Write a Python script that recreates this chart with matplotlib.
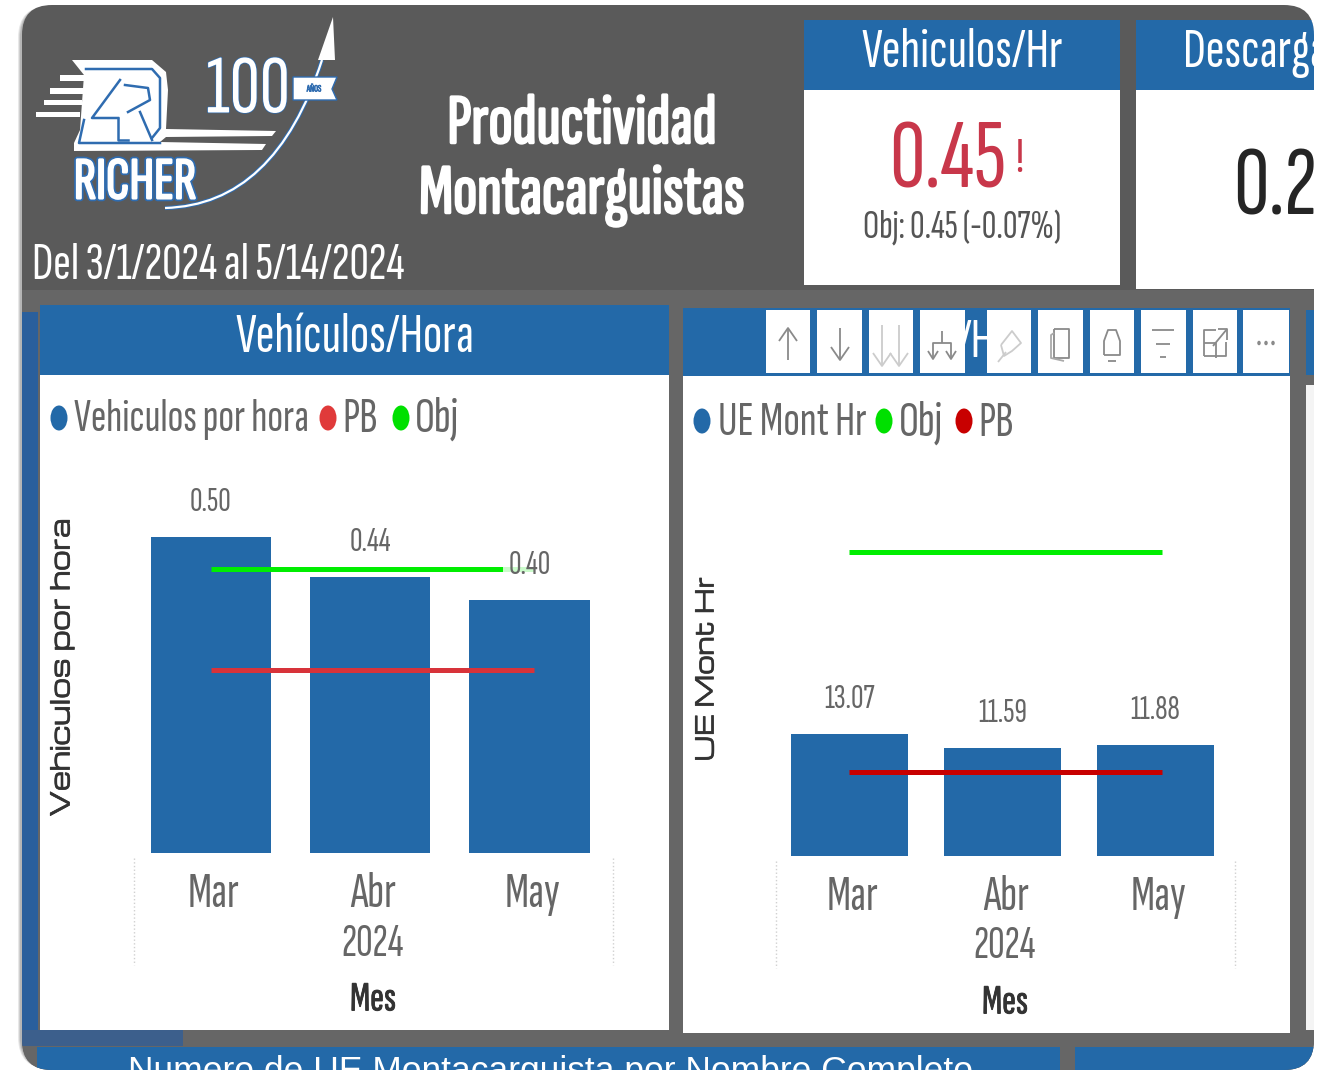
import matplotlib as mpl
import matplotlib.pyplot as plt
import matplotlib.patheffects as pe
from matplotlib.patches import FancyBboxPatch, Rectangle, Polygon, PathPatch, Ellipse
from matplotlib.path import Path

W, H = 1321, 1071
BLUE = '#2369a8'
DARK = '#5a5a5a'
LOGO = '#2f6cb0'
NARROW = ['Sofia Sans Extra Condensed', 'Liberation Sans', 'DejaVu Sans']
WIDE = ['Michroma', 'DejaVu Sans']

# datos
meses = ['Mar', 'Abr', 'May']
vehiculos_hora = [0.504, 0.44, 0.404]
obj_vehiculos = 0.453
pb_vehiculos = 0.292
ue_mont_hr = [13.07, 11.59, 11.88]
obj_ue = 32.6
pb_ue = 9.0

mpl.rcParams['font.family'] = NARROW
fig = plt.figure(figsize=(W / 100, H / 100), dpi=100, facecolor='white')

# capa de fondo en pixeles
bg = fig.add_axes([0, 0, 1, 1])
bg.set_xlim(0, W)
bg.set_ylim(H, 0)
bg.axis('off')

# sombra y tarjeta principal
for i, c in enumerate(['#e8e8e8', '#cfcfcf', '#b5b5b5']):
    bg.add_patch(FancyBboxPatch((18 + i, 6), 1290, 1063, boxstyle='round,pad=0,rounding_size=32',
                                fc=c, ec='none'))
base = FancyBboxPatch((22, 5), 1292, 1065, boxstyle='round,pad=0,rounding_size=30', fc=DARK, ec='none')
bg.add_patch(base)


def caja(x0, y0, x1, y1, color, z=2):
    r = Rectangle((x0, y0), x1 - x0, y1 - y0, fc=color, ec='none', zorder=z)
    bg.add_patch(r)
    r.set_clip_path(base)
    return r


def texto(x, y, s, size, color='#666666', ha='center', z=6, **kw):
    # +3: esta fuente queda un poco alta con va center
    t = bg.text(x, y + 3, s, fontsize=size, color=color, ha=ha, va='center', zorder=z, **kw)
    t.set_clip_path(base)
    return t


def negrita(ancho, color):
    return [pe.withStroke(linewidth=ancho, foreground=color)]


# franjas y paneles
caja(22, 290, 1314, 1070, '#666666', 1)
caja(22, 312, 38, 1030, '#2a5f9c')
caja(22, 1030, 183, 1046, '#3c5f8c')
caja(37, 1047, 1060, 1071, BLUE)
caja(1075, 1047, 1314, 1071, BLUE)
caja(1306, 310, 1314, 375, BLUE)
caja(1306, 385, 1314, 1030, '#f4f4f4')
caja(40, 305, 669, 375, BLUE)
caja(40, 375, 669, 1030, 'white')
caja(683, 308, 1290, 376, BLUE)
caja(683, 376, 1290, 1033, 'white')
caja(804, 20, 1120, 285, 'white')
caja(804, 20, 1120, 90, BLUE)
caja(1136, 20, 1314, 289, 'white')
caja(1136, 20, 1314, 90, BLUE)

# logo
for x0, y0, x1, y1 in [(60, 75, 86, 81), (50, 88, 84, 94), (44, 100, 82, 105), (36, 112, 80, 117)]:
    caja(x0, y0, x1, y1, 'white', 3)
bg.add_patch(Polygon([(72, 60), (152, 60), (166, 72), (168, 90), (166, 129), (276, 131), (272, 136), (166, 137),
                      (160, 142), (266, 144), (262, 150), (74, 151), (74, 143), (80, 130), (84, 75)],
                     fc='white', ec='none', zorder=3))
for xs, ys in [([86, 152, 160, 160, 152], [69, 69, 78, 128, 138]), ([84, 79, 160], [120, 143, 143]),
               ([120, 92, 118], [80, 118, 118]), ([125, 148, 150, 128], [85, 88, 100, 112]),
               ([118, 118, 128], [118, 140, 140]), ([140, 152], [112, 140])]:
    bg.plot(xs, ys, color=LOGO, lw=1.8, zorder=4)
curva = PathPatch(Path([(165, 208), (275, 205), (322, 60)], [Path.MOVETO, Path.CURVE3, Path.CURVE3]),
                  fc='none', ec='white', lw=1.6, zorder=3,
                  path_effects=[pe.Stroke(linewidth=3, foreground=LOGO), pe.Normal()])
bg.add_patch(curva)
bg.add_patch(Polygon([(333, 17), (335, 60), (318, 60)], fc='white', ec='none', zorder=3))
bg.add_patch(Polygon([(293, 77), (337, 77), (332, 89), (337, 100), (293, 100)], fc='white', ec=LOGO, lw=1, zorder=3))
texto(248, 89, '100', 60, 'white', path_effects=negrita(1, LOGO))
texto(314, 86, 'AÑOS', 7, LOGO, path_effects=negrita(0.5, LOGO))
texto(135, 180, 'RICHER', 43, 'white', path_effects=[pe.withStroke(linewidth=4, foreground=LOGO),
                                                     pe.withStroke(linewidth=1.5, foreground='white')])

# encabezado
texto(32, 263, 'Del 3/1/2024 al 5/14/2024', 38.5, 'white', ha='left')
texto(582, 122, 'Productividad', 51, 'white', path_effects=negrita(1.8, 'white'))
texto(582, 192, 'Montacarguistas', 51, 'white', path_effects=negrita(1.8, 'white'))

# indicadores
texto(962, 50, 'Vehiculos/Hr', 41, 'white')
texto(948, 160, '0.45', 71, '#c8374a')
texto(1019, 156, '!', 36, '#c8374a')
texto(962, 225, 'Obj: 0.45 (-0.07%)', 29, '#555555')
texto(1183, 50, 'Descarga', 41, 'white', ha='left')
texto(1233, 187, '0.2', 71, '#252525', ha='left')

# titulos de los paneles
texto(355, 335, 'Vehículos/Hora', 41, 'white')
texto(976, 340, '/H', 41, 'white', z=3)
texto(550, 1068, 'Numero de UE Montacarguista por Nombre Completo', 25.5, 'white', family=['Liberation Sans'])

# barra de botones, iconos dibujados con lineas
bx = [(766, 810), (817, 862), (869, 913), (920, 965), (987, 1031),
      (1038, 1083), (1090, 1134), (1141, 1186), (1193, 1237), (1243, 1289)]
for x0, x1 in bx:
    caja(x0, 310, x1, 373, 'white', 4)


def icono(xs, ys, color='#8a8a8a', lw=1.3):
    bg.plot(xs, ys, color=color, lw=lw, zorder=5, solid_capstyle='butt')


def flecha(cx, arriba, color='#8a8a8a', y0=328, y1=360):
    icono([cx, cx], [y0, y1], color)
    if arriba:
        icono([cx - 9, cx, cx + 9], [y0 + 13, y0, y0 + 13], color)
    else:
        icono([cx - 9, cx, cx + 9], [y1 - 13, y1, y1 - 13], color)


flecha(788, True)
flecha(840, False)
flecha(882, False, '#cccccc', 325, 366)
flecha(899, False, '#cccccc', 325, 366)
icono([942, 942], [331, 343])
icono([933, 933, 951, 951], [358, 343, 343, 358])
icono([928, 933, 938], [351, 359, 351])
icono([946, 951, 956], [351, 359, 351])
icono([1001, 1012, 1021, 1012, 1004, 1001], [345, 331, 343, 351, 356, 345], '#cccccc')
icono([998, 1006], [362, 352], '#cccccc')
icono([1054, 1069, 1069, 1054, 1054], [329, 329, 358, 358, 329])
icono([1054, 1051, 1051, 1064], [333, 335, 358, 361], '#aaaaaa')
icono([1104, 1104, 1108, 1116, 1120, 1120, 1104], [355, 341, 330, 330, 341, 355, 355])
icono([1108, 1116], [361, 361])
icono([1152, 1174], [330, 330])
icono([1156, 1170], [344, 344])
icono([1160, 1166], [357, 357])
icono([1204, 1226, 1226], [356, 356, 342])
icono([1204, 1204, 1216, 1216], [356, 330, 330, 330])
icono([1213, 1227], [346, 329])
icono([1218, 1227, 1227], [329, 329, 340])
icono([1204, 1216, 1216], [343, 343, 358])
for x in [1259, 1266, 1273]:
    bg.add_patch(Ellipse((x, 343), 3.5, 4.5, fc='#8a8a8a', ec='none', zorder=5))

# leyendas
for x, c, s, tx, sz in [(59, BLUE, 'Vehiculos por hora', 74, 33.5), (328, '#e03a3a', 'PB', 342, 36),
                        (401, '#00e000', 'Obj', 415, 36)]:
    bg.add_patch(Ellipse((x, 418), 17, 25, fc=c, ec='none', zorder=5))
    texto(tx, 416, s, sz, ha='left')
for x, c, s, tx, sz in [(702, BLUE, 'UE Mont Hr', 718, 35), (884, '#00e000', 'Obj', 899, 36), (964, '#c80000', 'PB', 978, 36)]:
    bg.add_patch(Ellipse((x, 421), 17, 25, fc=c, ec='none', zorder=5))
    texto(tx, 420, s, sz, ha='left')

# separadores punteados
for x, y0, y1 in [(134, 858, 965), (613, 858, 965), (776, 861, 968), (1235, 861, 968)]:
    bg.plot([x, x], [y0, y1], color='#d0d0d0', lw=1, ls=':', zorder=5)


def grafica(x0, x1, y0, y1, c0, paso, escala, valores, obj, pb, color_pb, ancho, ylabel, ylabel_x, ylabel_y, fin, ysize):
    ax = fig.add_axes([x0 / W, 1 - y1 / H, (x1 - x0) / W, (y1 - y0) / H])
    ax.patch.set_alpha(0)
    ax.set_xlim((x0 - c0) / paso, (x1 - c0) / paso)
    ax.set_ylim(0, (y1 - y0) / escala)
    xs = list(range(len(meses)))
    ax.bar(xs, valores, ancho / paso, color=BLUE, zorder=2)
    ax.hlines(obj, 0, fin, color='#00ee00', lw=3.6, zorder=3)
    ax.hlines(pb, 0, fin, color=color_pb, lw=3.6, zorder=3)
    for x, v in zip(xs, valores):
        ax.annotate('%.2f' % v, (x, v), xytext=(0, 25.2), textcoords='offset points', ha='center', va='center',
                    fontsize=25, color='#666666', zorder=4,
                    bbox=dict(fc='white', ec='none', alpha=0.8, pad=4) if x == 2 and v < obj else None)
    ax.set_xticks([x + 0.022 for x in xs])
    ax.set_xticklabels(meses, fontsize=36, color='#666666')
    ax.tick_params(length=0, pad=14)
    ax.set_yticks([])
    for s in ax.spines.values():
        s.set_visible(False)
    texto((x0 + x1) / 2 - 0.5, y1 + 88, '2024', 33)
    texto((x0 + x1) / 2 - 0.5, y1 + 144, 'Mes', 30, '#333333', path_effects=negrita(0.6, '#333333'))
    bg.text(ylabel_x, ylabel_y, ylabel, rotation=90, ha='center', va='center', fontsize=ysize,
            color='#333333', family=WIDE, zorder=6, path_effects=negrita(0.5, '#333333'))
    return ax


grafica(134, 613, 480, 853, 210.5, 159.5, 627, vehiculos_hora, obj_vehiculos, pb_vehiculos,
        '#d8333a', 120, 'Vehiculos por hora', 62, 667, 2.03, 18.5)
grafica(776, 1235, 480, 856, 849.5, 153, 9.33, ue_mont_hr, obj_ue, pb_ue,
        '#c80000', 117, 'UE Mont Hr', 707, 669, 2.04, 17.5)

fig.savefig('out.png', dpi=100)
